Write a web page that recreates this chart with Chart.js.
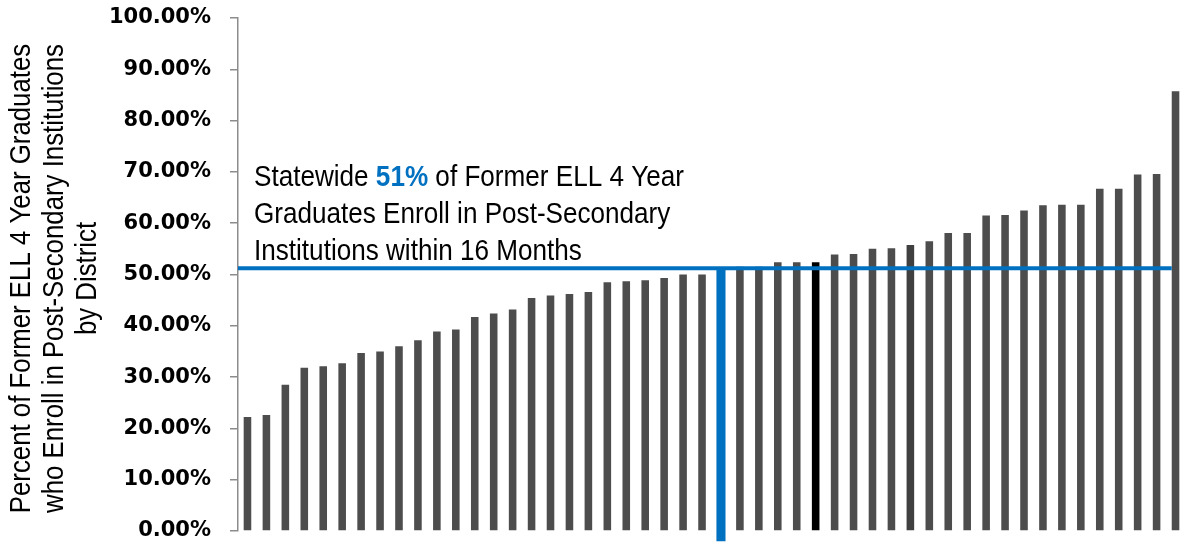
<!DOCTYPE html>
<html>
<head>
<meta charset="utf-8">
<script src="https://cdn.jsdelivr.net/npm/chart.js@4.4.1/dist/chart.umd.min.js"></script>
<style>
  html, body { margin: 0; padding: 0; background: #ffffff; overflow: hidden; }
  #wrap { width: 1185px; height: 544px; position: relative; }
</style>
</head>
<body>
<div id="wrap"><canvas id="c" width="1185" height="544"></canvas></div>
<script>
// ---- data ----
const districts = Array.from({length: 50}, (_, i) => 'District ' + (i + 1));
const districtRates = [22.2, 22.6, 28.5, 31.8, 32.1, 32.7, 34.7, 35.0, 36.0, 37.2,
  38.9, 39.3, 41.7, 42.4, 43.2, 45.4, 45.9, 46.2, 46.6, 48.5,
  48.7, 48.9, 49.3, 50.0, 50.0, 51.3, 51.5, 51.5, 52.4, 52.4,
  52.4, 53.9, 54.0, 55.0, 55.1, 55.75, 56.5, 58.1, 58.1, 61.5,
  61.6, 62.5, 63.5, 63.6, 63.6, 66.7, 66.7, 69.5, 69.6, 85.7];
const stateIndex = 25;          // statewide bar (blue)
const highlightIndex = 30;      // highlighted district (black)
const darkIndex = 35;           // slightly darker district
const statewideRate = 51.2;
const stateBarBase = -2;        // blue bar dips just below the baseline
const yTicks = [0, 10, 20, 30, 40, 50, 60, 70, 80, 90, 100];
const yTitle = ['Percent of Former ELL 4 Year Graduates', 'who Enroll in Post-Secondary Institutions', 'by District'];
const noteLines = [
  [['Statewide ', false], ['51%', true], [' of Former ELL 4 Year', false]],
  [['Graduates Enroll in Post-Secondary', false]],
  [['Institutions within 16 Months', false]]
];

const GREY = '#4d4d4d', BLUE = '#0070c0', BLACK = '#000000';
const NARROW = '"Liberation Sans Narrow", "Arial Narrow", "Liberation Sans", Arial, sans-serif';

const mainData = districtRates.map((v, i) => i === stateIndex ? null : v);
const mainColors = districtRates.map((v, i) => i === highlightIndex ? BLACK : (i === darkIndex ? '#404040' : GREY));
const stateData = districtRates.map((v, i) => i === stateIndex ? [stateBarBase, v] : null);

// condensed text helper (no narrow face installed -> squeeze horizontally)
const NOTE_SQUEEZE = 0.9, TITLE_SQUEEZE = 0.86;

const textPlugin = {
  id: 'texts',
  afterDraw(chart) {
    const ctx = chart.ctx;
    const a = chart.chartArea;
    // annotation
    ctx.save();
    ctx.textBaseline = 'alphabetic';
    ctx.textAlign = 'left';
    const x0 = a.left + 16, y0 = a.top + 168, lh = 37;
    ctx.translate(x0, y0);
    ctx.scale(NOTE_SQUEEZE, 1);
    noteLines.forEach((parts, li) => {
      let x = 0;
      parts.forEach(([txt, bold]) => {
        ctx.font = (bold ? 'bold ' : '') + '29px ' + NARROW;
        ctx.fillStyle = bold ? BLUE : '#000000';
        ctx.fillText(txt, x, li * lh);
        x += ctx.measureText(txt).width;
      });
    });
    ctx.restore();
    // y-axis title (rotated)
    ctx.save();
    const cy = (a.top + a.bottom) / 2 + 4;
    ctx.translate(22, cy);
    ctx.rotate(-Math.PI / 2);
    ctx.scale(TITLE_SQUEEZE, 1);
    ctx.font = '30px ' + NARROW;
    ctx.fillStyle = '#000000';
    ctx.textAlign = 'center';
    ctx.textBaseline = 'middle';
    yTitle.forEach((t, i) => ctx.fillText(t, 0, i * 33));
    ctx.restore();
  }
};

new Chart(document.getElementById('c'), {
  data: {
    labels: districts,
    datasets: [
      {
        type: 'line',
        data: [{x: 0, y: statewideRate}, {x: 49.3, y: statewideRate}],
        xAxisID: 'x2',
        borderColor: BLUE,
        borderWidth: 4,
        pointRadius: 0,
        order: 0,
        clip: false
      },
      {
        type: 'bar',
        data: mainData,
        backgroundColor: mainColors,
        barPercentage: 0.4,
        categoryPercentage: 1,
        grouped: false,
        order: 2
      },
      {
        type: 'bar',
        data: stateData,
        backgroundColor: BLUE,
        barPercentage: 0.48,
        categoryPercentage: 1,
        grouped: false,
        order: 1,
        clip: false
      }
    ]
  },
  options: {
    responsive: false,
    animation: false,
    layout: { padding: { top: 18, bottom: 13, left: 0, right: 0 } },
    plugins: { legend: { display: false }, tooltip: { enabled: false } },
    scales: {
      x: { display: false, offset: true },
      x2: { type: 'linear', display: false, min: 0, max: 50 },
      y: {
        min: 0, max: 100,
        afterFit(s) { s.width = 238; s.paddingTop = 0; s.paddingBottom = 0; },
        afterBuildTicks(s) { s.ticks = yTicks.map(v => ({value: v})); },
        ticks: {
          padding: 19,
          color: '#000000',
          font: { family: '"DejaVu Sans", sans-serif', size: 21, weight: 'bold' },
          callback: v => v.toFixed(2) + '%'
        },
        grid: { drawOnChartArea: false, drawTicks: true, tickLength: 8, color: '#8c8c8c', lineWidth: 1.5 },
        border: { display: true, color: '#8c8c8c', width: 1.5 },
        title: { display: false }
      }
    }
  },
  plugins: [textPlugin]
});
</script>
</body>
</html>
